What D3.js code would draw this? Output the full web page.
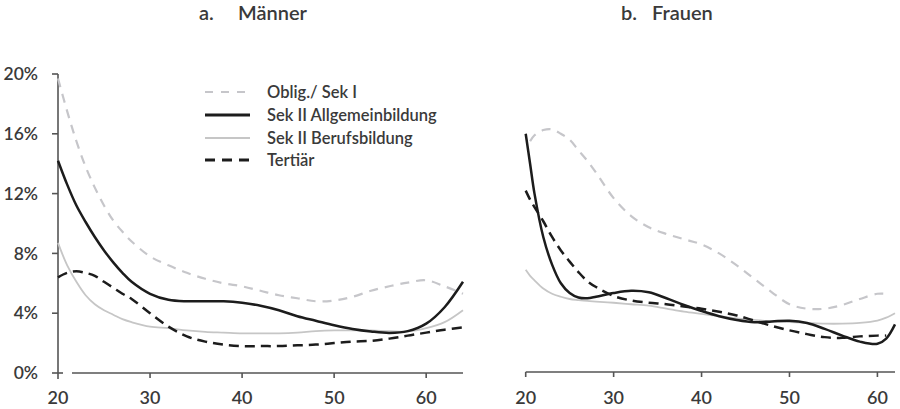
<!DOCTYPE html>
<html><head><meta charset="utf-8">
<script src="https://cdn.jsdelivr.net/npm/d3@7"></script>
<style>
html,body{margin:0;padding:0;background:#fff;}
svg{display:block;font-family:Lato,"Open Sans",sans-serif;}
</style></head>
<body>
<svg id="c" width="900" height="409"></svg>
<script>
// ---- data ----
const panelTitles = ["a.", "Männer", "b.", "Frauen"];
const seriesNames = ["Oblig./ Sek I", "Sek II Allgemeinbildung", "Sek II Berufsbildung", "Tertiär"];
const yTicks = [0, 4, 8, 12, 16, 20];
const xTicks = [20, 30, 40, 50, 60];

const ageM = [20,21,22,23,24,25,26,27,28,30,32,34,36,38,40,42,44,46,48,50,52,54,56,58,60,62,64];
const obligM = [19.7,17.5,15.5,13.8,12.4,11.2,10.2,9.45,8.8,7.8,7.2,6.7,6.3,6.0,5.8,5.5,5.2,5.0,4.8,4.85,5.1,5.5,5.8,6.05,6.2,5.8,5.3];
const allgM  = [14.2,12.6,11.2,10.1,9.1,8.2,7.4,6.7,6.1,5.3,4.9,4.8,4.8,4.8,4.7,4.5,4.2,3.8,3.5,3.2,2.95,2.78,2.68,2.8,3.3,4.4,6.1];
const berufM = [8.7,7.2,6.1,5.2,4.6,4.2,3.9,3.6,3.4,3.1,3.0,2.85,2.75,2.7,2.65,2.65,2.65,2.7,2.8,2.85,2.85,2.85,2.8,2.78,3.0,3.4,4.2];
const tertM  = [6.4,6.7,6.8,6.7,6.5,6.1,5.7,5.3,4.95,4.0,3.1,2.45,2.1,1.9,1.8,1.8,1.8,1.85,1.9,2.0,2.1,2.15,2.3,2.5,2.7,2.9,3.05];

const ageF = [20,20.5,21,22,23,24,25,26,27,28,30,32,34,36,38,40,42,44,46,48,50,52,54,56,58,60,61,62];
const obligF = [null,15.5,15.9,16.25,16.3,16.0,15.6,14.9,14.2,13.4,11.7,10.5,9.75,9.3,8.95,8.6,8.0,7.2,6.3,5.4,4.6,4.3,4.3,4.55,4.95,5.3,5.3,null];
const allgF  = [16.0,14.0,12.0,9.1,7.25,6.0,5.35,5.05,5.0,5.1,5.35,5.5,5.4,5.0,4.55,4.15,3.8,3.55,3.4,3.45,3.5,3.35,2.95,2.5,2.1,1.95,2.3,3.25];
const berufF = [6.9,6.5,6.2,5.65,5.3,5.1,4.95,4.88,4.82,4.78,4.7,4.6,4.5,4.3,4.1,3.95,3.8,3.65,3.55,3.45,3.4,3.35,3.3,3.3,3.35,3.5,3.7,4.0];
const tertF  = [12.2,11.6,11.1,10.15,9.1,8.2,7.45,6.75,6.15,5.75,5.15,4.85,4.7,4.6,4.45,4.3,4.1,3.85,3.5,3.15,2.85,2.6,2.4,2.35,2.45,2.5,2.5,null];

// ---- styles ----
const styles = [
  {color:"#c6c6ca", width:2.2, dash:"9,7"},
  {color:"#1c1c1c", width:2.5, dash:null},
  {color:"#c6c6c6", width:1.8, dash:null},
  {color:"#1c1c1c", width:2.5, dash:"10,6"}
];
const axisColor = "#555";
const textColor = "#3a3a3a";

const svg = d3.select("#c");
const y = d3.scaleLinear().domain([0, 20]).range([373, 74]);
const xL = d3.scaleLinear().domain([20, 64]).range([58, 463]);
const xR = d3.scaleLinear().domain([20, 62]).range([525.7, 895]);

// titles
const tg = svg.append("g").attr("fill", textColor).style("font-size", "20px").style("font-weight", 600);
tg.append("text").attr("x", 199).attr("y", 20).text(panelTitles[0]);
tg.append("text").attr("x", 238).attr("y", 20).text(panelTitles[1]);
tg.append("text").attr("x", 621).attr("y", 20).text(panelTitles[2]);
tg.append("text").attr("x", 652).attr("y", 20).text(panelTitles[3]);

// left y axis
const ax = svg.append("g").attr("stroke", axisColor).attr("stroke-width", 1.6).attr("fill", "none");
ax.append("line").attr("x1", xL(20)).attr("x2", xL(20)).attr("y1", y(20)).attr("y2", y(0) + 6);
yTicks.forEach(t => {
  ax.append("line").attr("x1", xL(20) - 6).attr("x2", t === 0 ? xL(20) + 5 : xL(20))
    .attr("y1", y(t)).attr("y2", y(t));
});
svg.append("g").attr("fill", textColor).style("font-size", "17.5px").style("font-weight", 600)
  .attr("text-anchor", "end")
  .selectAll("text").data(yTicks).join("text")
  .attr("x", 38).attr("y", d => y(d)).attr("dy", "0.35em").text(d => d + "%");

// left x axis
ax.append("line").attr("x1", xL(20) + 14).attr("x2", xL(64)).attr("y1", y(0)).attr("y2", y(0));
xTicks.filter(t => t > 20).forEach(t => {
  ax.append("line").attr("x1", xL(t)).attr("x2", xL(t)).attr("y1", y(0)).attr("y2", y(0) + 5);
});
svg.append("g").attr("fill", textColor).style("font-size", "18px").style("font-weight", 600)
  .attr("text-anchor", "middle")
  .selectAll("text").data(xTicks).join("text")
  .attr("x", d => xL(d)).attr("y", 398).attr("dy", "0.35em").text(d => d);

// right x axis
const yR0 = 372;
ax.append("line").attr("x1", xR(20)).attr("x2", xR(62)).attr("y1", yR0).attr("y2", yR0);
xTicks.forEach(t => {
  ax.append("line").attr("x1", xR(t)).attr("x2", xR(t)).attr("y1", yR0).attr("y2", yR0 + 5);
});
svg.append("g").attr("fill", textColor).style("font-size", "18px").style("font-weight", 600)
  .attr("text-anchor", "middle")
  .selectAll("text").data(xTicks).join("text")
  .attr("x", d => xR(d)).attr("y", 398).attr("dy", "0.35em").text(d => d);

// curves
function drawSeries(ages, vals, x, st) {
  const pts = ages.map((a, i) => [a, vals[i]]);
  const line = d3.line()
    .defined(d => d[1] !== null)
    .x(d => x(d[0])).y(d => y(d[1]))
    .curve(d3.curveCatmullRom.alpha(0.5));
  svg.append("path").datum(pts)
    .attr("d", line).attr("fill", "none")
    .attr("stroke", st.color).attr("stroke-width", st.width)
    .attr("stroke-dasharray", st.dash).attr("stroke-linecap", "butt");
}
const seriesM = [obligM, allgM, berufM, tertM];
const seriesF = [obligF, allgF, berufF, tertF];
[0, 2, 3, 1].forEach(i => {
  drawSeries(ageM, seriesM[i], xL, styles[i]);
  drawSeries(ageF, seriesF[i], xR, styles[i]);
});

// legend
const legY = [92, 115, 138, 160];
const lg = svg.append("g");
seriesNames.forEach((n, i) => {
  lg.append("line").attr("x1", 205).attr("x2", 250).attr("y1", legY[i]).attr("y2", legY[i])
    .attr("stroke", styles[i].color).attr("stroke-width", i % 2 === 1 ? 3 : 2.2)
    .attr("stroke-dasharray", styles[i].dash ? (i === 0 ? "8,8" : "10,7") : null);
  lg.append("text").attr("x", 267).attr("y", legY[i]).attr("dy", "0.35em")
    .attr("fill", textColor).style("font-size", "16.5px").style("font-weight", 600).text(n);
});
</script>
</body></html>
